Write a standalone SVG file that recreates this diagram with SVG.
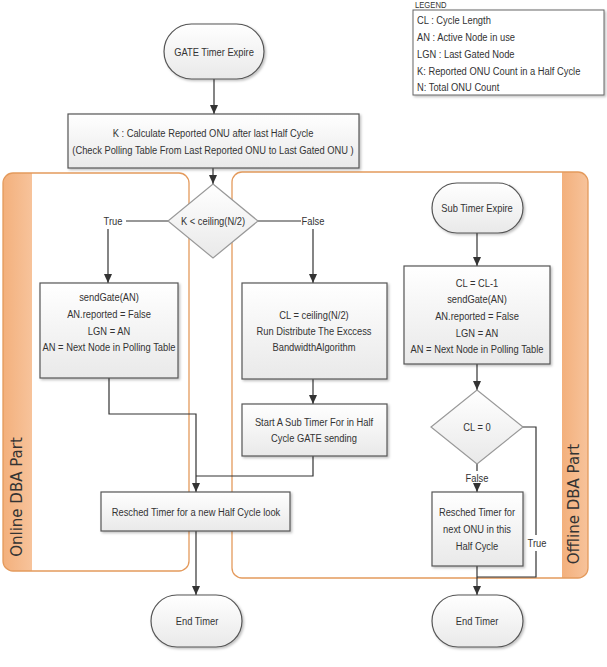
<svg xmlns="http://www.w3.org/2000/svg" width="607" height="667" viewBox="0 0 607 667">
<style>
  .t { font-family: "Liberation Sans", Arial, sans-serif; font-size: 11px; fill: #333; text-anchor: middle; dominant-baseline: central; }
  .lg { font-family: "Liberation Sans", Arial, sans-serif; font-size: 11px; fill: #333; dominant-baseline: central; }
  .box { fill: url(#g); stroke: #555; stroke-width: 1.2; filter: url(#sh); }
  .dia { fill: url(#g); stroke: #999; stroke-width: 1.2; }
  .panel { fill: none; stroke: #e49a5c; stroke-width: 1.3; }
  .band { fill: url(#og); }
  .conn { fill: none; stroke: #333; stroke-width: 1.2; }
  .side { font-family: "DejaVu Sans", Verdana, sans-serif; font-size: 15px; fill: #333; text-anchor: middle; dominant-baseline: central; }
</style>
<defs>
  <linearGradient id="g" x1="0" y1="0" x2="0" y2="1">
    <stop offset="0" stop-color="#ffffff"/>
    <stop offset="1" stop-color="#e9e9e9"/>
  </linearGradient>
  <linearGradient id="og" x1="0" y1="0" x2="1" y2="0">
    <stop offset="0" stop-color="#f3b07c"/>
    <stop offset="1" stop-color="#f7c39b"/>
  </linearGradient>
  <filter id="sh" x="-10%" y="-10%" width="130%" height="140%">
    <feDropShadow dx="1.5" dy="1.5" stdDeviation="1.2" flood-color="#000" flood-opacity="0.25"/>
  </filter>
  <marker id="ah" markerWidth="10" markerHeight="10" refX="9" refY="5" orient="auto" markerUnits="userSpaceOnUse">
    <path d="M0,1 L9,5 L0,9 Z" fill="#333"/>
  </marker>
</defs>
<rect width="607" height="667" fill="#fff"/>

<!-- Panels -->
<g id="online-panel">
  <path class="band" d="M3,183 a10,10 0 0 1 10,-10 H32 V571 H13 a10,10 0 0 1 -10,-10 Z"/>
  <rect class="panel" x="3" y="173" width="186" height="398" rx="10"/>
  <text class="side" transform="translate(17,497) rotate(-90)">Online DBA Part</text>
</g>
<g id="offline-panel">
  <path class="band" d="M562,172 H578 a10,10 0 0 1 10,10 V568 a10,10 0 0 1 -10,10 H562 Z"/>
  <rect class="panel" x="232" y="172" width="356" height="406" rx="10"/>
  <text class="side" transform="translate(574,504) rotate(-90)">Offline DBA Part</text>
</g>

<!-- Legend -->
<g id="legend">
  <text class="lg" transform="translate(415,4.5) scale(.85,1)" style="font-size:9px">LEGEND</text>
  <rect x="413" y="10" width="191" height="85" fill="#fff" stroke="#666" stroke-width="1" filter="url(#sh)"/>
  <text class="lg" transform="translate(417,20) scale(.85,1)">CL : Cycle Length</text>
  <text class="lg" transform="translate(417,37) scale(.85,1)">AN : Active Node in use</text>
  <text class="lg" transform="translate(417,54) scale(.85,1)">LGN : Last Gated Node</text>
  <text class="lg" transform="translate(417,71) scale(.85,1)">K: Reported ONU Count in a Half Cycle</text>
  <text class="lg" transform="translate(417,87) scale(.85,1)">N: Total ONU Count</text>
</g>

<!-- Connectors -->
<g id="connectors">
  <path class="conn" d="M214,79 V114" marker-end="url(#ah)"/>
  <path class="conn" d="M213,168 V184" marker-end="url(#ah)"/>
  <path class="conn" d="M168,221 H126"/>
  <path class="conn" d="M108,229 V283" marker-end="url(#ah)"/>
  <path class="conn" d="M258,221 H301"/>
  <path class="conn" d="M313,229 V283" marker-end="url(#ah)"/>
  <path class="conn" d="M109,378 V414 H196 V492" marker-end="url(#ah)"/>
  <path class="conn" d="M313,379 V404" marker-end="url(#ah)"/>
  <path class="conn" d="M313,456 V476 H196"/>
  <path class="conn" d="M196,531 V595" marker-end="url(#ah)"/>
  <path class="conn" d="M477,233 V266" marker-end="url(#ah)"/>
  <path class="conn" d="M477,364 V390" marker-end="url(#ah)"/>
  <path class="conn" d="M477,464 V471"/>
  <path class="conn" d="M477,485 V492" marker-end="url(#ah)"/>
  <path class="conn" d="M523,427 H536 V535"/>
  <path class="conn" d="M536,551 V577 H477"/>
  <path class="conn" d="M477,566 V595" marker-end="url(#ah)"/>
  <text class="t" transform="translate(113,221) scale(.85,1)">True</text>
  <text class="t" transform="translate(313,221) scale(.85,1)">False</text>
  <text class="t" transform="translate(477,478) scale(.85,1)">False</text>
  <text class="t" transform="translate(537,543) scale(.85,1)">True</text>
</g>

<!-- Nodes -->
<g id="gate-timer-expire">
  <rect class="box" x="164" y="24" width="100" height="55" rx="27.5"/>
  <text class="t" transform="translate(214,52) scale(.85,1)">GATE Timer Expire</text>
</g>
<g id="calc-k">
  <rect class="box" x="68" y="114" width="291" height="54"/>
  <text class="t" transform="translate(213,133) scale(.85,1)">K : Calculate Reported ONU after last Half Cycle</text>
  <text class="t" transform="translate(213,150) scale(.85,1)">(Check Polling Table From Last Reported ONU to Last Gated ONU )</text>
</g>
<g id="decision-k">
  <polygon class="dia" points="213,184 258,221 213,258 168,221"/>
  <text class="t" transform="translate(213,221) scale(.85,1)">K &lt; ceiling(N/2)</text>
</g>
<g id="send-gate-online">
  <rect class="box" x="40" y="283" width="138" height="95"/>
  <text class="t" transform="translate(109,297) scale(.85,1)">sendGate(AN)</text>
  <text class="t" transform="translate(109,314) scale(.85,1)">AN.reported = False</text>
  <text class="t" transform="translate(109,331) scale(.85,1)">LGN = AN</text>
  <text class="t" transform="translate(109,347) scale(.85,1)">AN = Next Node in Polling Table</text>
</g>
<g id="cl-ceiling">
  <rect class="box" x="242" y="283" width="145" height="96"/>
  <text class="t" transform="translate(314,315) scale(.85,1)">CL = ceiling(N/2)</text>
  <text class="t" transform="translate(314,331) scale(.85,1)">Run Distribute The Exccess</text>
  <text class="t" transform="translate(314,347) scale(.85,1)">BandwidthAlgorithm</text>
</g>
<g id="start-sub-timer">
  <rect class="box" x="242" y="404" width="145" height="52"/>
  <text class="t" transform="translate(314,422) scale(.85,1)">Start A Sub Timer For in Half</text>
  <text class="t" transform="translate(314,438) scale(.85,1)">Cycle GATE sending</text>
</g>
<g id="resched-half-cycle">
  <rect class="box" x="101" y="492" width="189" height="39"/>
  <text class="t" transform="translate(196,512) scale(.85,1)">Resched Timer for a new Half Cycle look</text>
</g>
<g id="end-timer-left">
  <rect class="box" x="151" y="595" width="91" height="52" rx="26"/>
  <text class="t" transform="translate(197,621) scale(.85,1)">End Timer</text>
</g>
<g id="sub-timer-expire">
  <rect class="box" x="432" y="183" width="91" height="50" rx="25"/>
  <text class="t" transform="translate(477,208) scale(.85,1)">Sub Timer Expire</text>
</g>
<g id="send-gate-offline">
  <rect class="box" x="404" y="266" width="146" height="98"/>
  <text class="t" transform="translate(477,283) scale(.85,1)">CL = CL-1</text>
  <text class="t" transform="translate(477,299) scale(.85,1)">sendGate(AN)</text>
  <text class="t" transform="translate(477,316) scale(.85,1)">AN.reported = False</text>
  <text class="t" transform="translate(477,333) scale(.85,1)">LGN = AN</text>
  <text class="t" transform="translate(477,349) scale(.85,1)">AN = Next Node in Polling Table</text>
</g>
<g id="decision-cl">
  <polygon class="dia" points="477,390 523,427 477,464 431,427"/>
  <text class="t" transform="translate(477,427) scale(.85,1)">CL = 0</text>
</g>
<g id="resched-next-onu">
  <rect class="box" x="432" y="492" width="91" height="74"/>
  <text class="t" transform="translate(477,512) scale(.85,1)">Resched Timer for</text>
  <text class="t" transform="translate(477,529) scale(.85,1)">next ONU in this</text>
  <text class="t" transform="translate(477,546) scale(.85,1)">Half Cycle</text>
</g>
<g id="end-timer-right">
  <rect class="box" x="432" y="595" width="91" height="52" rx="26"/>
  <text class="t" transform="translate(477,621) scale(.85,1)">End Timer</text>
</g>
</svg>
